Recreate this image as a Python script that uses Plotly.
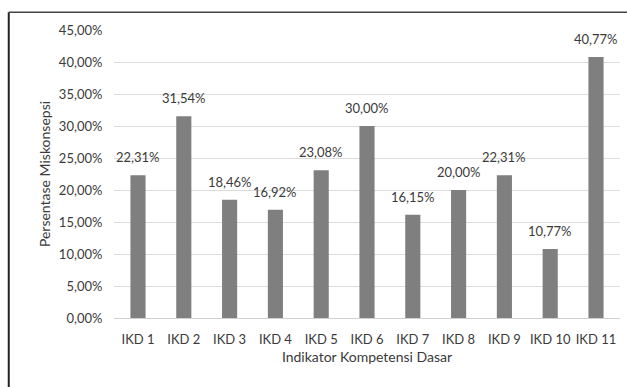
import plotly.graph_objects as go

categories = ["IKD 1", "IKD 2", "IKD 3", "IKD 4", "IKD 5", "IKD 6",
              "IKD 7", "IKD 8", "IKD 9", "IKD 10", "IKD 11"]
values = [22.31, 31.54, 18.46, 16.92, 23.08, 30.00, 16.15, 20.00, 22.31, 10.77, 40.77]
tick_vals = [0, 5, 10, 15, 20, 25, 30, 35, 40, 45]
tick_text = [f"{v:.2f}".replace(".", ",") + "%" for v in tick_vals]
labels = [f"{v:.2f}".replace(".", ",") + "%" for v in values]

FONT = "Lato"
TXT = "#3a3a3a"

fig = go.Figure(go.Bar(
    x=categories, y=values,
    marker=dict(color="#7f7f7f", line=dict(width=0)),
    width=0.33,
))

for c, v, t in zip(categories, values, labels):
    fig.add_annotation(x=c, y=v, text=t, showarrow=False, yanchor="bottom",
                       yshift=8, font=dict(family=FONT, size=13, color=TXT))

# frame lines on the left and top edges
fig.add_shape(type="line", xref="paper", yref="paper", x0=-0.208, x1=-0.208,
              y0=-0.24, y1=1.062, line=dict(color="#222222", width=2))
fig.add_shape(type="line", xref="paper", yref="paper", x0=-0.208, x1=1.02,
              y0=1.062, y1=1.062, line=dict(color="#444444", width=1.5))

fig.update_layout(
    width=627, height=387,
    margin=dict(l=114, r=7, t=30, b=69),
    plot_bgcolor="white", paper_bgcolor="white",
    showlegend=False,
    font=dict(family=FONT, size=13, color=TXT),
    xaxis=dict(
        title=dict(text="Indikator Kompetensi Dasar", font=dict(size=14, color=TXT), standoff=6),
        showline=True, linecolor="#d0d0d0", linewidth=1,
        ticks="outside", ticklen=9, tickcolor="rgba(0,0,0,0)",
        tickfont=dict(size=13, color=TXT),
    ),
    yaxis=dict(
        title=dict(text="Persentase Miskonsepsi", font=dict(size=14, color=TXT), standoff=4),
        range=[0, 45], tickvals=tick_vals, ticktext=tick_text,
        showgrid=True, gridcolor="#dcdcdc", gridwidth=1,
        zeroline=False, showline=False,
        ticks="outside", ticklen=8, tickcolor="rgba(0,0,0,0)",
        tickfont=dict(size=13, color=TXT),
    ),
)

fig.write_html("out.html")
